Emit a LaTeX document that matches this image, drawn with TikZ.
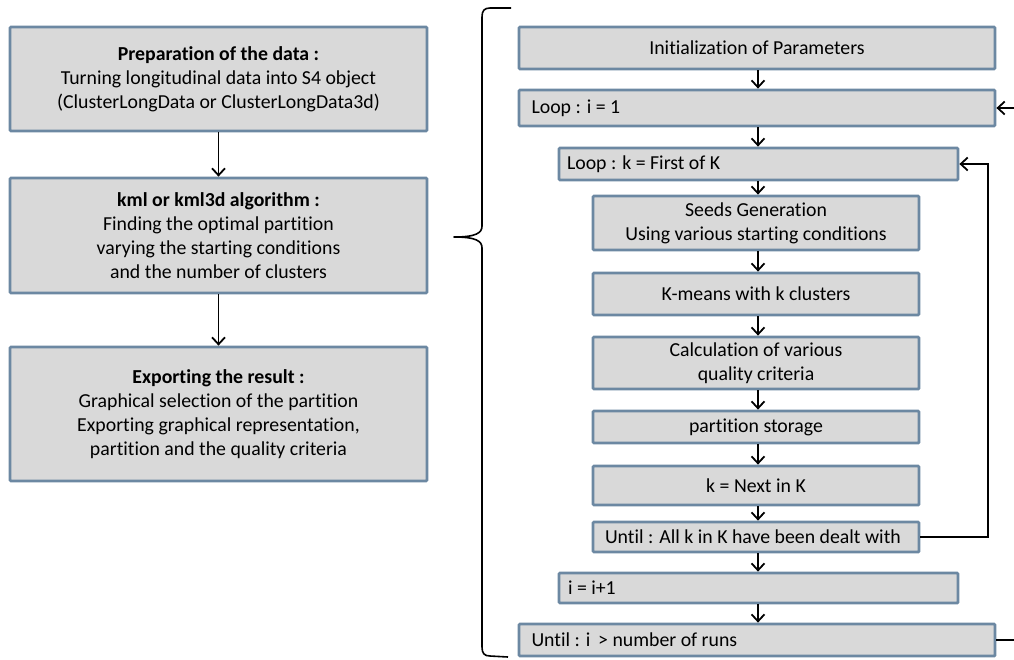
\documentclass[tikz,border=0pt]{standalone}
\usepackage{fontspec}
\setmainfont{Carlito}[Ligatures=NoCommon]
\usetikzlibrary{arrows.meta,calc}
\begin{document}
\begin{tikzpicture}[x=1pt,y=-1pt,
  box/.style={draw=boxline, fill=boxfill, line width=2.8pt, inner sep=0pt, rounded corners=1pt,
    font=\fontsize{19.8}{24}\selectfont, align=center},
  lbox/.style={box, align=flush left},
  arr/.style={line width=1.8pt, -{Straight Barb[length=7pt,width=13pt,line width=1.8pt]}},
  ln/.style={line width=1.8pt}]
\definecolor{boxfill}{HTML}{D9D9D9}
\definecolor{boxline}{HTML}{6C88A2}
\useasboundingbox (0,0) rectangle (1014,659);
\clip (0,0) rectangle (1014,659);
% left column
\node[box, minimum width=417pt, minimum height=104pt] (prep) at (218.5,79)
  {\textbf{Preparation of the data :}\\Turning longitudinal data into S4 object\\(ClusterLongData or ClusterLongData3d)};
\node[box, minimum width=417pt, minimum height=115pt] (kml) at (218.5,235.5)
  {\textbf{kml or kml3d algorithm :}\\Finding the optimal partition\\varying the starting conditions\\and the number of clusters};
\node[box, minimum width=417pt, minimum height=134pt] (exp) at (218.5,414)
  {\textbf{Exporting the result :}\\Graphical selection of the partition\\Exporting graphical representation,\\partition and the quality criteria};
\draw[arr] (prep.south) -- (kml.north);
\draw[arr] (kml.south) -- (exp.north);
% brace
\draw[line width=1.6pt, line join=round] (511,8) -- (490,8) .. controls (484,8) and (482,11) .. (482,17)
  -- (482,226) .. controls (482,233) and (476,237) .. (454,237)
  .. controls (476,237) and (482,241) .. (482,248)
  -- (482,647) .. controls (482,653) and (484,656) .. (490,656) -- (508,657);
% right column
\node[box, minimum width=476pt, minimum height=42pt] (init) at (757,48) {Initialization of Parameters};
\node[lbox, minimum width=476pt, minimum height=36pt, text width=451pt] (loopi) at (757,108) {Loop : i = 1};
\node[lbox, minimum width=399pt, minimum height=32pt, text width=383pt] (loopk) at (758.5,164) {Loop : k = First of K};
\node[box, minimum width=326pt, minimum height=54pt] (seeds) at (756,223) {Seeds Generation\\Using various starting conditions};
\node[box, minimum width=326pt, minimum height=42pt] (kmeans) at (756,294) {K-means with k clusters};
\node[box, minimum width=326pt, minimum height=52pt] (calc) at (756,363) {Calculation of various\\quality criteria};
\node[box, minimum width=326pt, minimum height=32pt] (stor) at (756,427) {partition storage};
\node[box, minimum width=326pt, minimum height=39pt] (next) at (756,485.5) {k = Next in K};
\node[lbox, minimum width=326pt, minimum height=30pt, text width=302pt] (untilk) at (756,537) {Until : All k in K have been dealt with};
\node[lbox, minimum width=399pt, minimum height=30pt, text width=381pt] (iplus) at (758.5,588) {i = i+1};
\node[lbox, minimum width=476pt, minimum height=32pt, text width=451pt] (untili) at (757,640) {Until : i~\,> number of runs};
\coordinate (X) at (758,0);
\foreach \a/\b in {init/loopi, loopi/loopk, loopk/seeds, seeds/kmeans, kmeans/calc, calc/stor, stor/next, next/untilk, untilk/iplus, iplus/untili}
  \draw[arr] (\a.south -| X) -- (\b.north -| X);
% inner loop
\coordinate (kr) at (988,0);
\draw[arr] (untilk.east) -- (untilk.east -| kr) -- (loopk.east -| kr) -- (loopk.east);
% outer loop (runs off the right edge)
\coordinate (or) at (1030,0);
\draw[arr] (untili.east) -- (untili.east -| or) -- (loopi.east -| or) -- (loopi.east);
\end{tikzpicture}
\end{document}
